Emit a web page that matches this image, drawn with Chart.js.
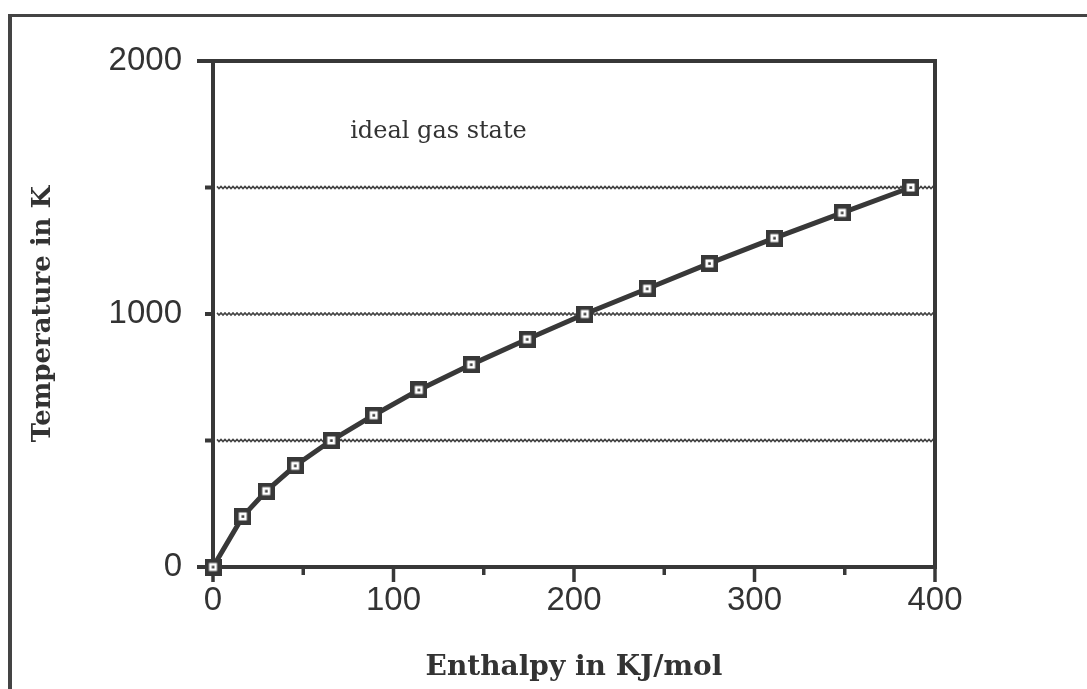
<!DOCTYPE html>
<html lang="en">
<head>
    <meta charset="UTF-8">
    <title>Temperature vs Enthalpy</title>
    <script src="https://cdn.jsdelivr.net/npm/chart.js"></script>
    <style>
        body {
            margin: 0;
            padding: 0;
            background: #fff;
            overflow: hidden;
        }

        .wrap {
            position: relative;
            width: 1087px;
            height: 689px;
        }

        /* outer frame, only top and left edges are visible in the scan */
        .frame {
            position: absolute;
            left: 8px;
            top: 14px;
            width: 1100px;
            height: 700px;
            border-top: 3px solid #444;
            border-left: 4px solid #444;
            pointer-events: none;
        }
    </style>
</head>
<body>
    <div class="wrap">
        <canvas id="myChart"></canvas>
        <div class="frame"></div>
    </div>
    <script>
        // values
        const enthalpy = [0, 16.5, 29.5, 45.5, 65.5, 89, 114, 143, 174, 206, 240.5, 275, 311, 348.5, 386.5];
        const temperature = [0, 200, 300, 400, 500, 600, 700, 800, 900, 1000, 1100, 1200, 1300, 1400, 1500];

        const xTicks = [0, 100, 200, 300, 400];
        const yTicks = [0, 1000, 2000];
        const gridValues = [500, 1000, 1500];

        const note = { text: 'ideal gas state', x: 76, y: 1720 };

        const ink = '#383838';

        // square marker with a dot in the middle
        function makeMarker() {
            const c = document.createElement('canvas');
            c.width = 17;
            c.height = 17;
            const g = c.getContext('2d');
            g.fillStyle = ink;
            g.fillRect(0, 0, 17, 17);
            g.fillStyle = '#fff';
            g.fillRect(4.5, 4.5, 8, 8);
            g.fillStyle = ink;
            g.fillRect(7.3, 7.3, 2.6, 2.6);
            return c;
        }

        // draws the box, wavy grid lines, tick marks and the note
        const framePlugin = {
            id: 'framePlugin',
            beforeDatasetsDraw(chart) {
                const { ctx, chartArea: a, scales: { x, y } } = chart;
                ctx.save();

                // wavy grid lines
                ctx.strokeStyle = '#444';
                ctx.lineWidth = 1.6;
                gridValues.forEach(v => {
                    const py = y.getPixelForValue(v);
                    ctx.beginPath();
                    let up = true;
                    for (let px = a.left + 4; px <= a.right; px += 2) {
                        const yy = py + (up ? -1.1 : 1.1);
                        if (px === a.left + 4) ctx.moveTo(px, yy); else ctx.lineTo(px, yy);
                        up = !up;
                    }
                    ctx.stroke();
                });

                ctx.strokeStyle = ink;
                ctx.lineWidth = 4;
                ctx.lineCap = 'butt';

                // plot box
                ctx.strokeRect(a.left, a.top, a.right - a.left, a.bottom - a.top);

                // y ticks
                for (let v = 0; v <= 2000; v += 500) {
                    const py = y.getPixelForValue(v);
                    const len = (v === 0 || v === 2000) ? 16 : 8;
                    ctx.beginPath();
                    ctx.moveTo(a.left - len, py);
                    ctx.lineTo(a.left, py);
                    ctx.stroke();
                }

                // x ticks
                ctx.lineWidth = 3.5;
                for (let v = 0; v <= 400; v += 50) {
                    const px = x.getPixelForValue(v);
                    const len = v % 100 === 0 ? 15 : 8;
                    ctx.beginPath();
                    ctx.moveTo(px, a.bottom);
                    ctx.lineTo(px, a.bottom + len);
                    ctx.stroke();
                }

                // note
                ctx.fillStyle = '#333';
                ctx.font = '24px "DejaVu Serif"';
                ctx.textAlign = 'left';
                ctx.textBaseline = 'middle';
                ctx.fillText(note.text, x.getPixelForValue(note.x), y.getPixelForValue(note.y));

                ctx.restore();
            }
        };

        const ctx = document.getElementById('myChart').getContext('2d');
        const myChart = new Chart(ctx, {
            type: 'scatter',
            data: {
                datasets: [{
                    label: 'Temperature',
                    data: enthalpy.map((h, i) => ({ x: h, y: temperature[i] })),
                    showLine: true,
                    clip: false,
                    borderColor: ink,
                    borderWidth: 5,
                    pointStyle: makeMarker(),
                    pointRadius: 8,
                    pointHoverRadius: 8
                }]
            },
            options: {
                responsive: true,
                maintainAspectRatio: false,
                animation: false,
                events: [],
                layout: {
                    padding: { left: 0, top: 61, right: 152, bottom: 0 }
                },
                plugins: {
                    legend: { display: false },
                    tooltip: { enabled: false }
                },
                scales: {
                    x: {
                        type: 'linear',
                        min: 0,
                        max: 400,
                        afterFit(scale) { scale.height = 122; },
                        afterBuildTicks(scale) { scale.ticks = xTicks.map(v => ({ value: v })); },
                        grid: { display: false, drawTicks: false },
                        border: { display: false },
                        ticks: {
                            padding: 14,
                            maxRotation: 0,
                            autoSkip: false,
                            color: '#333',
                            callback: v => String(v),
                            font: { family: '"Liberation Sans"', size: 33 }
                        },
                        title: {
                            display: true,
                            text: 'Enthalpy in KJ/mol',
                            color: '#333',
                            padding: { top: 0, bottom: 4 },
                            font: { family: '"DejaVu Serif"', size: 28, weight: 'bold' }
                        }
                    },
                    y: {
                        min: 0,
                        max: 2000,
                        afterFit(scale) { scale.width = 213; },
                        afterBuildTicks(scale) { scale.ticks = yTicks.map(v => ({ value: v })); },
                        grid: { display: false, drawTicks: false },
                        border: { display: false },
                        ticks: {
                            padding: 31,
                            color: '#333',
                            callback: v => String(v),
                            font: { family: '"Liberation Sans"', size: 33 }
                        },
                        title: {
                            display: true,
                            text: 'Temperature in K',
                            color: '#333',
                            padding: { top: 28, bottom: 0 },
                            font: { family: '"DejaVu Serif"', size: 26, weight: 'bold' }
                        }
                    }
                }
            },
            plugins: [framePlugin]
        });
    </script>
</body>
</html>
